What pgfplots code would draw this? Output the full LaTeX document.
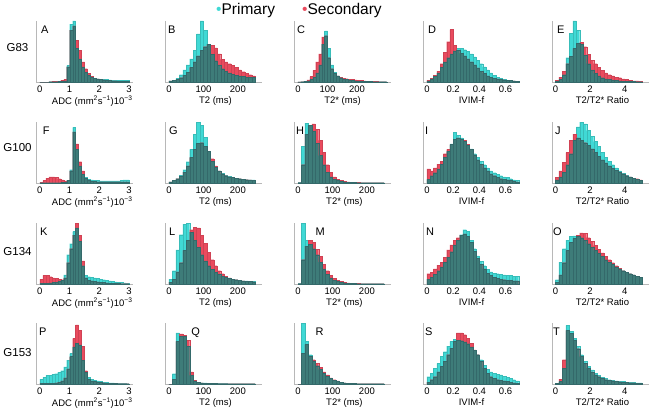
\documentclass[border=0pt]{standalone}
\usepackage{fontspec}
\setmainfont{Liberation Sans}
\usepackage{pgfplots}
\pgfplotsset{compat=1.18}
\usepackage{pgfplotstable}

\definecolor{pc}{HTML}{40D9D5}
\definecolor{pe}{HTML}{38BDB9}
\definecolor{sc}{HTML}{E94B5E}
\definecolor{se}{HTML}{D04254}
\definecolor{oc}{HTML}{3E7C79}
\definecolor{oe}{HTML}{34696A}

% ---------- data: relative heights (% of axis height) per bin ----------
% ADC: 30 bins of 0.1 from 0
\pgfplotstableread[row sep=\\]{p s\\0 0\\0 0\\0 0\\0.5 0.5\\0.5 1\\0.5 1\\1 1.5\\1.5 2.5\\2 4\\27 25\\95 85\\100 92\\55 68\\38 52\\25 33\\16 22\\11 14\\8 9\\6 6\\5 5\\4.5 4\\4 3.5\\4 3\\3.5 2.5\\3 2\\3 2\\2.5 1.5\\2.5 1.5\\3 1.5\\2.5 1\\}\tA
\pgfplotstableread[row sep=\\]{p s\\0.5 1\\0.5 4\\0.5 8\\0.5 10\\0.5 10\\0.5 9\\0.5 7\\1 5\\1.5 3.5\\4 4\\22 20\\91 84\\55 64\\28 35\\14 20\\9 8\\6 4\\5 3\\4 2.5\\4 2\\3.5 2\\3.5 2\\3.5 2\\3.5 2\\3.5 2\\3.5 2\\3.5 2\\4 2\\5 2\\5 2\\}\tF
\pgfplotstableread[row sep=\\]{p s\\1 8\\1 14\\1.5 14\\2 12\\2.5 10\\3 9\\4 8\\6 7\\15 10\\48 35\\66 58\\86 80\\92 100\\70 80\\30 38\\14 10\\12 6\\11 5\\10 4\\9 3.5\\8 3\\7 2.5\\6 2\\5 1.5\\4 1\\3.5 1\\3 1\\2.5 0.5\\2 0.5\\1.5 0.5\\}\tK
\pgfplotstableread[row sep=\\]{p s\\8 1\\11 1\\14 1\\14 1\\16 1.5\\17 2\\19 3\\22 5\\28 10\\39 25\\50 45\\61 75\\67 97\\64 88\\39 62\\19 22\\11 8\\8 5\\6 4\\5 3\\4 2.5\\3 2\\3 1.5\\2 1\\2 1\\1.5 1\\1 0.5\\1 0.5\\1 0.5\\0.5 0.5\\}\tP
% T2: 25 bins of 10 ms
\pgfplotstableread[row sep=\\]{p s\\2 2\\3 3\\6 4\\12 7\\20 11\\28 16\\38 24\\52 33\\79 43\\100 52\\85 58\\62 62\\45 60\\35 56\\28 46\\22 37\\18 33\\15 30\\13 27\\11 24\\10 20\\9 17\\8 14\\8 12\\8 10\\}\tB
\pgfplotstableread[row sep=\\]{p s\\2 2\\4 4\\7 7\\13 11\\22 18\\35 28\\55 42\\80 55\\100 65\\95 66\\75 60\\52 52\\36 40\\26 28\\20 20\\16 15\\13 12\\11 10\\9 9\\8 8\\7 7\\6 6\\5.5 5.5\\5 5\\5 4.5\\}\tG
\pgfplotstableread[row sep=\\]{p s\\8 3\\22 8\\56 20\\81 35\\98 55\\100 72\\85 89\\72 93\\60 92\\48 80\\38 67\\30 52\\24 40\\19 30\\16 22\\13 17\\11 13\\9 10\\8 8\\7 7\\6 6\\5 5\\5 4.5\\4 4\\4 3.5\\}\tL
\pgfplotstableread[row sep=\\]{p s\\0 0\\17 8\\84 70\\78 82\\78 80\\62 72\\14 20\\5 6\\3 3\\2 2\\2 1.5\\1.5 1\\1.5 1\\1 1\\1 0.5\\1 0.5\\1 0.5\\0.5 0.5\\0.5 0.5\\0.5 0.5\\0.5 0.5\\0.5 0.5\\0.5 0.5\\0.5 0.5\\0.5 0.5\\}\tQ
% T2*: bins of 10 ms
\pgfplotstableread[row sep=\\]{p s\\0 0\\0.5 0.5\\1 1.5\\2 3.5\\4 9\\8 19\\15 33\\28 46\\62 74\\84 76\\55 40\\28 22\\16 14\\10 10\\7 8\\5 6.5\\4 5.5\\3 4.5\\2.5 4\\2 3.5\\1.5 3\\1.5 2.5\\1 2\\1 1.5\\1 1.5\\0.5 1\\0.5 1\\0.5 0.5\\0.5 0.5\\0.5 0.5\\}\tC
\pgfplotstableread[row sep=\\]{p s\\1 0.5\\60 30\\98 80\\95 95\\85 97\\65 88\\45 70\\30 50\\18 30\\10 18\\6 10\\4 6\\3 4\\2 3\\1.5 2\\1 1.5\\1 1\\0.5 1\\0.5 0.5\\0.5 0.5\\0.5 0.5\\0.5 0.5\\0.5 0.5\\0.5 0.5\\0.5 0.5\\}\tH
\pgfplotstableread[row sep=\\]{p s\\1 0.5\\100 40\\72 62\\65 72\\58 68\\48 57\\36 45\\25 32\\16 22\\10 14\\6 9\\4 6\\3 4\\2 3\\1.5 2\\1 1.5\\1 1\\0.5 1\\0.5 0.5\\0.5 0.5\\0.5 0.5\\0.5 0.5\\0.5 0.5\\0.5 0.5\\0.5 0.5\\}\tM
\pgfplotstableread[row sep=\\]{p s\\0 0\\100 50\\70 65\\48 45\\38 40\\30 34\\24 27\\18 20\\13 15\\9 10\\6 7\\4 5\\3 3\\2 2\\1.5 1.5\\1 1\\1 1\\0.5 0.5\\0.5 0.5\\0.5 0.5\\0.5 0.5\\0.5 0.5\\0.5 0.5\\0.5 0.5\\0.5 0.5\\}\tR
% IVIM-f: 28 bins of 0.025
\pgfplotstableread[row sep=\\]{p s\\2 3\\5 6\\9 11\\15 18\\24 30\\33 49\\40 66\\46 86\\51 60\\55 52\\55 47\\53 43\\50 38\\46 33\\41 28\\36 23\\30 18\\25 14\\20 10\\15 8\\11 6\\8 5\\6 4\\4 3.5\\3 3\\2.5 2.5\\2 2\\1.5 1.5\\}\tD
\pgfplotstableread[row sep=\\]{p s\\6 23\\12 20\\17 25\\23 31\\31 36\\42 48\\52 55\\64 63\\83 72\\78 74\\74 72\\68 70\\62 63\\56 55\\48 46\\42 38\\36 31\\30 25\\25 20\\20 15\\17 12\\14 9\\12 7\\10 6\\9 5\\7 4\\5 3\\4 2\\}\tI
\pgfplotstableread[row sep=\\]{p s\\8 17\\11 19\\16 25\\22 31\\28 36\\36 44\\44 56\\53 64\\64 72\\72 76\\81 80\\89 82\\86 78\\72 68\\58 54\\46 42\\37 32\\30 25\\24 18\\20 14\\18 11\\17 9\\16 8\\15 7\\14 6\\14 6\\13 5\\13 5\\}\tN
\pgfplotstableread[row sep=\\]{p s\\12 3\\18 7\\26 12\\34 20\\45 29\\53 37\\62 48\\70 59\\73 70\\72 84\\71 84\\69 81\\66 75\\61 67\\55 56\\48 48\\40 37\\31 26\\24 18\\20 12\\18 9\\16 7\\15 6\\13 5\\11 4\\9 3\\7 2\\5 1.5\\}\tS
% T2/T2* ratio: 25 bins of 0.2
\pgfplotstableread[row sep=\\]{p s\\1 3\\4 8\\12 18\\40 30\\80 42\\100 55\\85 63\\62 65\\44 58\\30 45\\20 36\\14 30\\10 24\\7 19\\5 15\\4 12\\3 10\\2.5 8\\2 7\\1.5 5\\1 4\\1 3\\1 2\\0.5 2\\0.5 1\\}\tE
\pgfplotstableread[row sep=\\]{p s\\5 9\\10 20\\18 34\\30 50\\48 70\\70 80\\92 74\\100 70\\97 66\\86 62\\77 56\\68 50\\60 44\\50 38\\42 33\\36 28\\30 24\\25 21\\20 18\\16 15\\13 12\\10 10\\8 8\\6 7\\4 5\\}\tJ
\pgfplotstableread[row sep=\\]{p s\\7 3\\36 15\\58 35\\72 55\\78 68\\79 75\\78 80\\76 84\\72 83\\66 76\\60 70\\55 63\\50 57\\45 51\\40 45\\36 40\\32 35\\28 30\\25 26\\22 22\\19 19\\17 17\\15 15\\13 13\\11 11\\}\tO
\pgfplotstableread[row sep=\\]{p s\\1 1\\4 8\\26 40\\96 88\\86 83\\75 72\\62 58\\48 45\\37 34\\29 26\\23 20\\18 15\\14 12\\11 9\\9 7\\7 6\\6 5\\5 4\\4 3.5\\4 3\\3 2.5\\3 2\\2.5 2\\2 1.5\\2 1.5\\}\tT

\pgfplotsset{
  panel/.style={scale only axis, width=97pt, height=61pt, ymin=0, ymax=100,
    ytick=\empty, axis x line*=bottom, axis y line*=left,
    axis line style={draw=black!28, line width=0.7pt, -},
    tick style={draw=none},
    /pgf/number format/assume math mode=true,
    xticklabel style={font=\fontsize{9.5}{10}\selectfont, inner sep=0pt, yshift=-3.5pt},
    xlabel style={font=\fontsize{9.5}{10}\selectfont, inner sep=0pt, anchor=north, yshift=-14pt},
    clip=false},
  adc/.style={panel, xmin=-0.13, xmax=3.13, xtick={0,1,2,3}, xticklabels={0,1,2,3},
    xlabel={ADC (mm\textsuperscript{2}s\textsuperscript{−1})10\textsuperscript{−3}},
    xlabel style={at={(axis description cs:0.58,0)}}},
  ttwo/.style={panel, xmin=-11.6, xmax=270, xtick={0,100,200}, xticklabels={0,100,200},
    xlabel={T2 (ms)}, xlabel style={at={(axis description cs:0.52,0)}}},
  tstarwide/.style={panel, xmin=-13.5, xmax=315, xtick={0,100,200}, xticklabels={0,100,200},
    xlabel={T2* (ms)}, xlabel style={at={(axis description cs:0.5,0)}}},
  tstar/.style={panel, xmin=-11.6, xmax=270, xtick={0,100,200}, xticklabels={0,100,200},
    xlabel={T2* (ms)}, xlabel style={at={(axis description cs:0.52,0)}}},
  ivim/.style={panel, xmin=-0.03, xmax=0.71, xtick={0,0.2,0.4,0.6}, xticklabels={0,0.2,0.4,0.6},
    xlabel={IVIM-f}, xlabel style={at={(axis description cs:0.5,0)}}},
  ratio/.style={panel, xmin=-0.2, xmax=5.4, xtick={0,2,4}, xticklabels={0,2,4},
    xlabel={T2/T2* Ratio}, xlabel style={at={(axis description cs:0.52,0)}}},
}

% #1 style, #2 bin width, #3 x, #4 y, #5 table, #6 letter, #7 letter x
\newcommand{\panel}[7]{%
\begin{axis}[#1, at={(#3pt,#4pt)}, anchor=south west]
\addplot[ybar, bar width=#2, bar shift=0pt, fill=pc, draw=pe, line width=0.15pt]
  table[x expr={(\coordindex+0.5)*#2}, y=p]{#5};
\addplot[ybar, bar width=#2, bar shift=0pt, fill=sc, draw=se, line width=0.15pt]
  table[x expr={(\coordindex+0.5)*#2}, y=s]{#5};
\addplot[ybar, bar width=#2, bar shift=0pt, fill=oc, draw=oe, line width=0.15pt]
  table[x expr={(\coordindex+0.5)*#2}, y expr={min(\thisrow{p},\thisrow{s})}]{#5};
\node[anchor=north west, inner sep=0pt, font=\fontsize{11}{11}\selectfont] at (rel axis cs:#7,0.93) {#6};
\end{axis}}

\begin{document}
\begin{tikzpicture}
\path[use as bounding box] (0pt,0pt) rectangle (650pt,416pt);

\panel{adc}{0.1}{36}{334}{\tA}{A}{0.05}
\panel{ttwo}{10}{165}{334}{\tB}{B}{0.03}
\panel{tstarwide}{10}{294}{334}{\tC}{C}{0.03}
\panel{ivim}{0.025}{423}{334}{\tD}{D}{0.05}
\panel{ratio}{0.2}{552}{334}{\tE}{E}{0.05}

\panel{adc}{0.1}{36}{233}{\tF}{F}{0.07}
\panel{ttwo}{10}{165}{233}{\tG}{G}{0.04}
\panel{tstar}{10}{294}{233}{\tH}{H}{0.02}
\panel{ivim}{0.025}{423}{233}{\tI}{I}{0.02}
\panel{ratio}{0.2}{552}{233}{\tJ}{J}{0.03}

\panel{adc}{0.1}{36}{132}{\tK}{K}{0.04}
\panel{ttwo}{10}{165}{132}{\tL}{L}{0.04}
\panel{tstar}{10}{294}{132}{\tM}{M}{0.22}
\panel{ivim}{0.025}{423}{132}{\tN}{N}{0.03}
\panel{ratio}{0.2}{552}{132}{\tO}{O}{0.01}

\panel{adc}{0.1}{36}{32}{\tP}{P}{0.03}
\panel{ttwo}{10}{165}{32}{\tQ}{Q}{0.27}
\panel{tstar}{10}{294}{32}{\tR}{R}{0.22}
\panel{ivim}{0.025}{423}{32}{\tS}{S}{0.02}
\panel{ratio}{0.2}{552}{32}{\tT}{T}{0.01}

\node[font=\fontsize{11.5}{12}\selectfont] at (17.5pt,368.5pt) {G83};
\node[font=\fontsize{11.5}{12}\selectfont] at (17.5pt,268pt) {G100};
\node[font=\fontsize{11.5}{12}\selectfont] at (17.5pt,164pt) {G134};
\node[font=\fontsize{11.5}{12}\selectfont] at (17.5pt,63pt) {G153};

\node[anchor=base west, inner sep=0pt, font=\fontsize{15.5}{16}\selectfont] at (216pt,401.5pt) {\textcolor{pc}{•}Primary};
\node[anchor=base west, inner sep=0pt, font=\fontsize{15.5}{16}\selectfont] at (302pt,401.5pt) {\textcolor{sc}{•}Secondary};
\end{tikzpicture}
\end{document}
